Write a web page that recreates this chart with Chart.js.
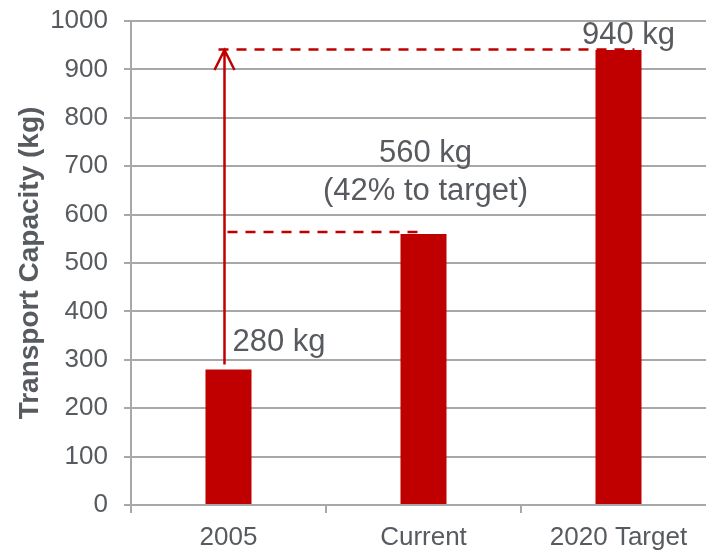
<!DOCTYPE html>
<html>
<head>
<meta charset="utf-8">
<script src="https://cdn.jsdelivr.net/npm/chart.js@4/dist/chart.umd.min.js"></script>
<style>
  html, body { margin: 0; padding: 0; background: #ffffff; overflow: hidden; }
  #wrap { position: relative; width: 720px; height: 550px; }
</style>
</head>
<body>
<div id="wrap"><canvas id="c"></canvas></div>
<script>
// Transport capacity, kg
const categories = ['2005', 'Current', '2020 Target'];
const capacity = [280, 560, 940];
const yTicks = [0, 100, 200, 300, 400, 500, 600, 700, 800, 900, 1000];
const unit = 'kg';

const RED = '#c00000';
const TEXT = '#575a5e';
const GRID = '#a8a8a8';
const FONT = "'Liberation Sans', Arial, sans-serif";

// arrow, dashed guide lines and value callouts
const callouts = {
  id: 'callouts',
  afterDatasetsDraw(chart) {
    const { ctx, scales: { x, y } } = chart;
    const xs = capacity.map((v, i) => x.getPixelForValue(i));
    const ys = capacity.map(v => y.getPixelForValue(v));
    const ax = xs[0] - 4;

    ctx.save();
    ctx.strokeStyle = RED;
    ctx.lineWidth = 2.5;
    ctx.lineCap = 'butt';

    // dashed guides at the current and target levels
    ctx.setLineDash([10, 8]);
    ctx.beginPath();
    ctx.moveTo(ax - 6, ys[2] - 0.5);
    ctx.lineTo(xs[2] + 16, ys[2] - 0.5);
    ctx.moveTo(ax + 3, ys[1] - 2);
    ctx.lineTo(xs[1] - 5, ys[1] - 2);
    ctx.stroke();

    // growth arrow from 2005 up to the target
    ctx.setLineDash([]);
    ctx.beginPath();
    ctx.moveTo(ax, ys[0] - 5);
    ctx.lineTo(ax, ys[2] + 1);
    ctx.moveTo(ax - 10, ys[2] + 20);
    ctx.lineTo(ax, ys[2]);
    ctx.lineTo(ax + 10, ys[2] + 20);
    ctx.stroke();

    // value labels
    const pct = Math.round((capacity[1] - capacity[0]) / (capacity[2] - capacity[0]) * 100);
    ctx.fillStyle = TEXT;
    ctx.font = '31px ' + FONT;
    ctx.textBaseline = 'middle';
    ctx.textAlign = 'left';
    ctx.fillText(capacity[0] + ' ' + unit, ax + 8, ys[0] - 27);
    ctx.textAlign = 'center';
    ctx.fillText(capacity[1] + ' ' + unit, xs[1] + 2, ys[1] - 81);
    ctx.fillText('(' + pct + '% to target)', xs[1] + 2, ys[1] - 43);
    ctx.fillText(capacity[2] + ' ' + unit, xs[2] + 10, ys[2] - 15);
    ctx.restore();
  }
};

new Chart(document.getElementById('c'), {
  type: 'bar',
  data: {
    labels: categories,
    datasets: [{
      data: capacity,
      backgroundColor: RED,
      borderWidth: 0,
      categoryPercentage: 1,
      barPercentage: 0.236
    }]
  },
  options: {
    responsive: true,
    maintainAspectRatio: false,
    animation: false,
    events: [],
    layout: { padding: { top: 21, right: 4, bottom: 0, left: 0 } },
    plugins: { legend: { display: false }, tooltip: { enabled: false } },
    scales: {
      x: {
        offset: true,
        grid: {
          offset: true,
          drawOnChartArea: false,
          drawTicks: true,
          tickLength: 8,
          color: GRID,
          lineWidth: 2
        },
        border: { display: false },
        ticks: {
          color: TEXT,
          font: { family: FONT, size: 26 },
          padding: 9,
          maxRotation: 0
        },
        afterFit(s) { s.height = 45; s.paddingLeft = 0; s.paddingRight = 0; }
      },
      y: {
        min: 0,
        max: 1000,
        afterBuildTicks(s) { s.ticks = yTicks.map(v => ({ value: v })); },
        grid: {
          color: GRID,
          lineWidth: 2,
          drawTicks: true,
          tickLength: 7
        },
        border: { display: true, color: GRID, width: 2 },
        ticks: {
          color: TEXT,
          font: { family: FONT, size: 26 },
          padding: 16,
          callback: v => String(v)
        },
        title: {
          display: true,
          text: 'Transport Capacity (kg)',
          color: TEXT,
          font: { family: FONT, size: 28, weight: 'bold' },
          padding: { top: 13, bottom: 0 }
        },
        afterFit(s) { s.width = 131; s.paddingTop = 0; s.paddingBottom = 0; }
      }
    }
  },
  plugins: [callouts]
});
</script>
</body>
</html>
